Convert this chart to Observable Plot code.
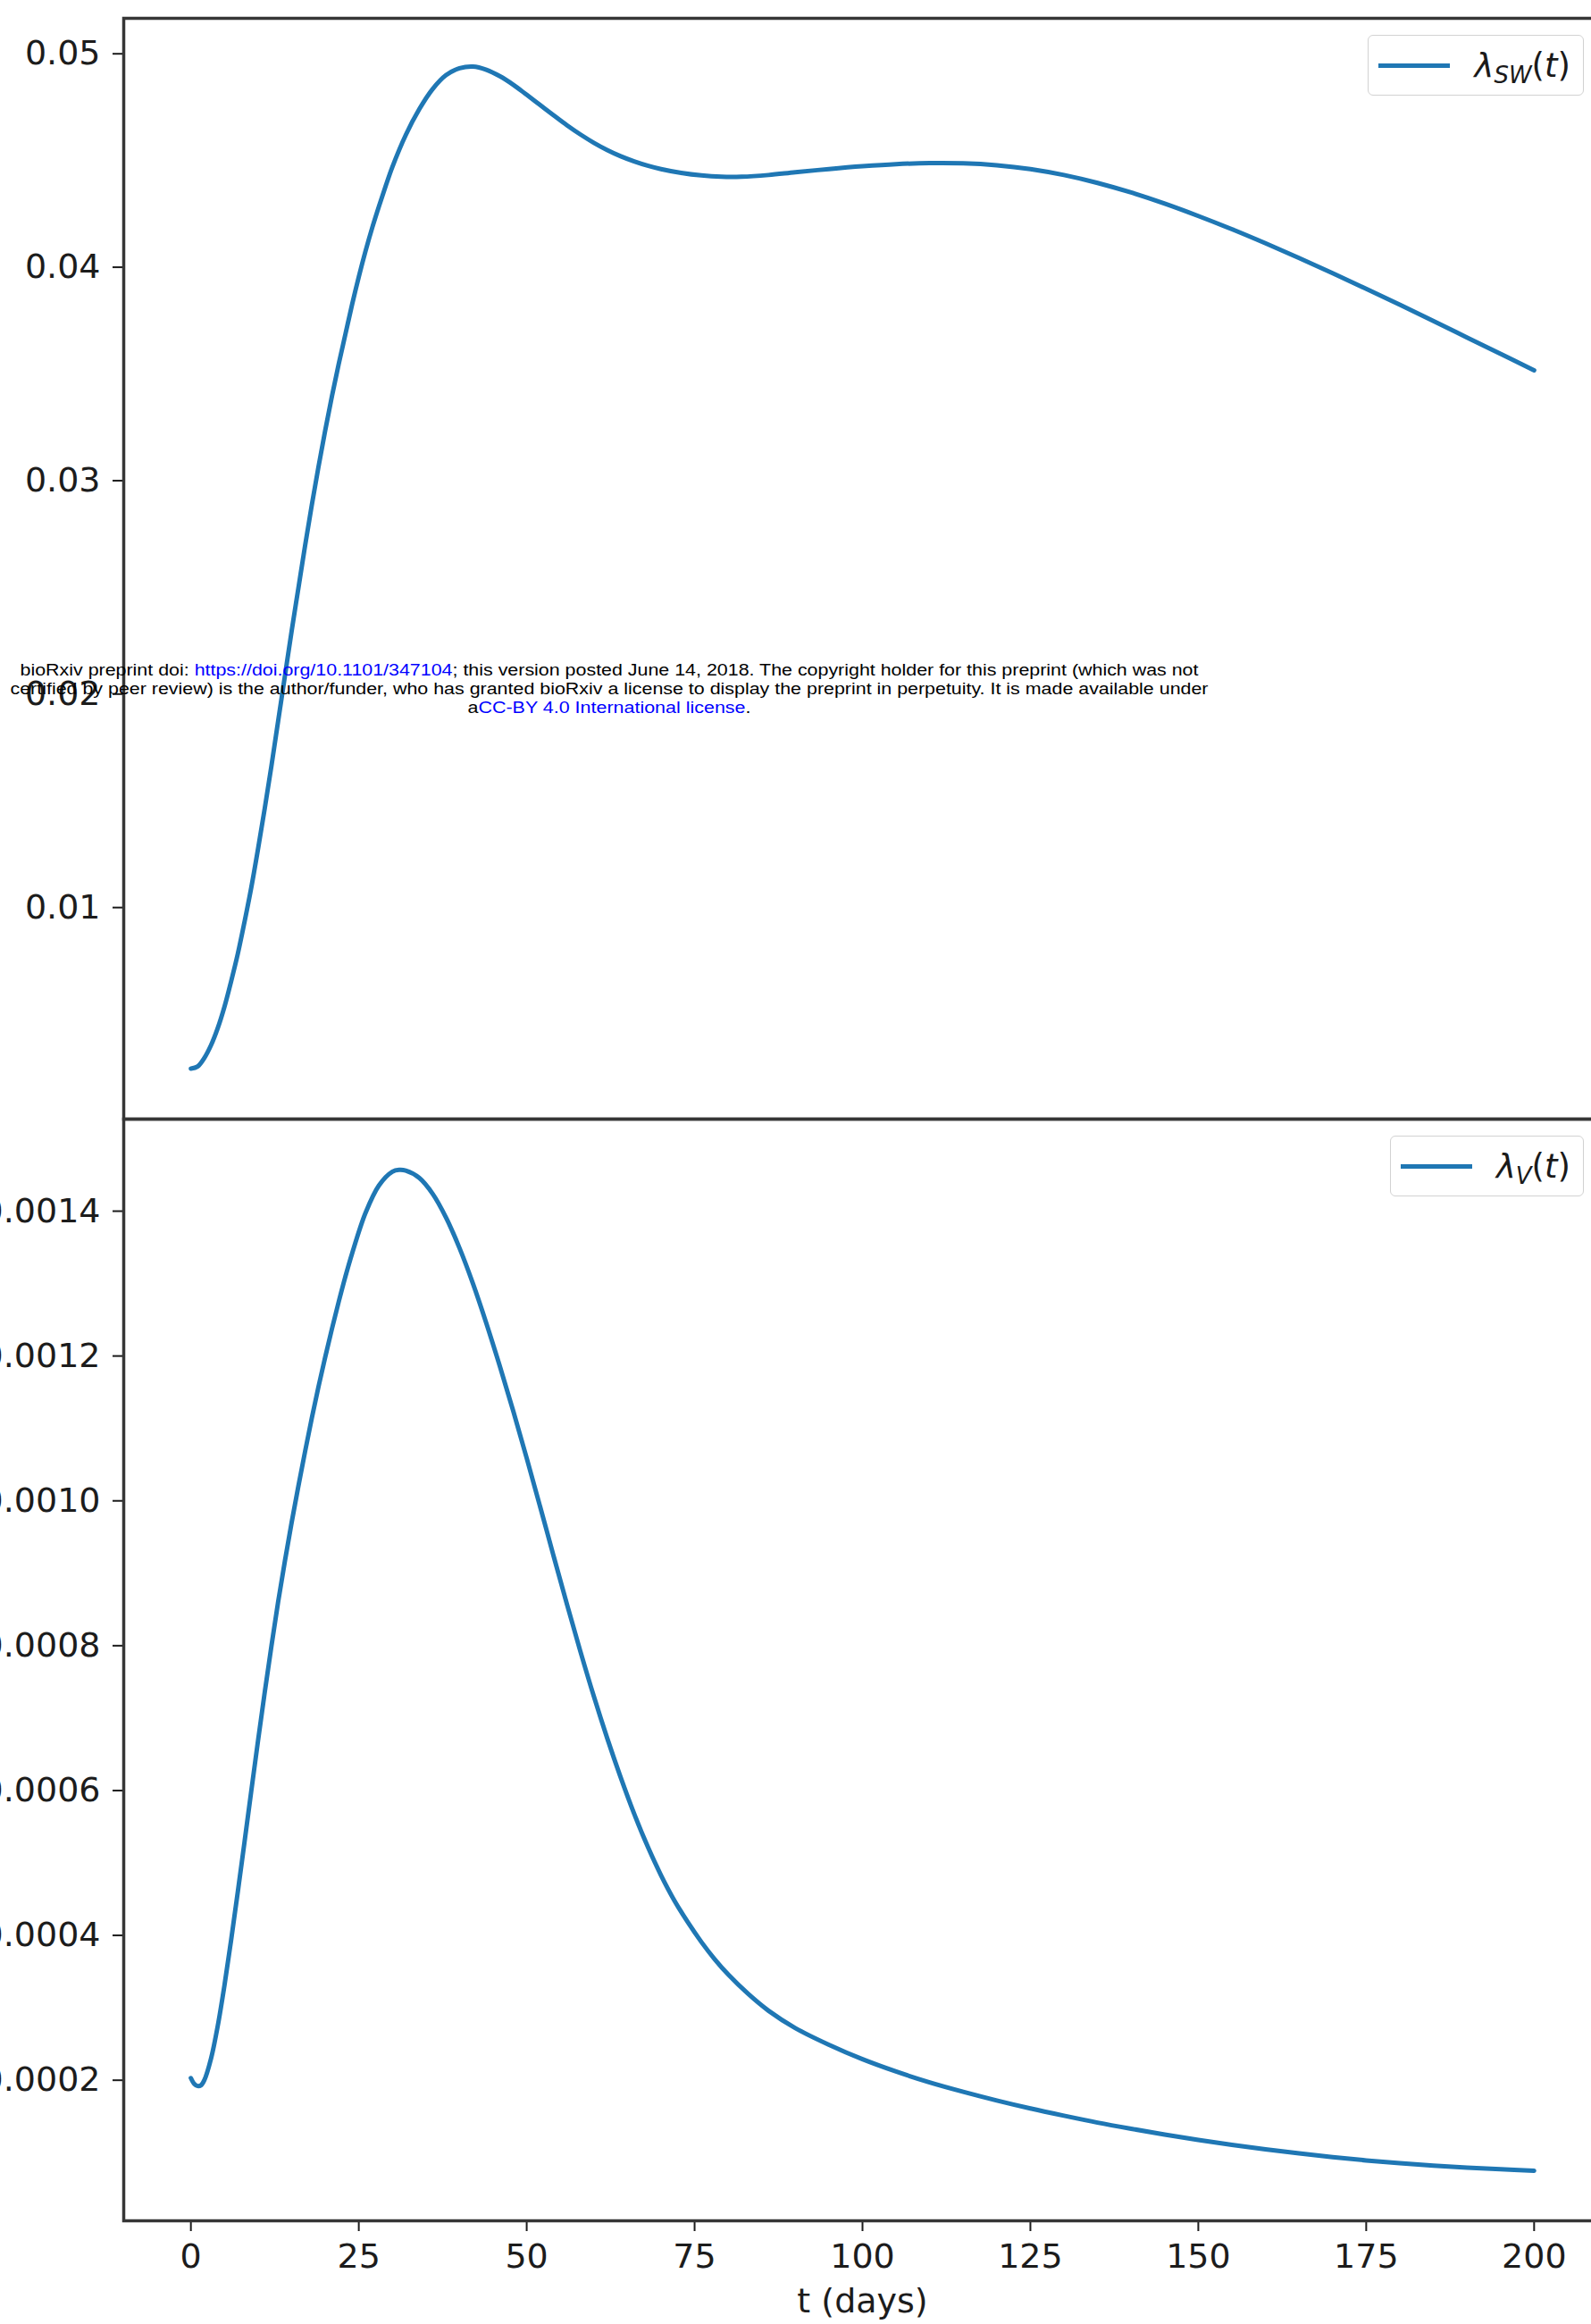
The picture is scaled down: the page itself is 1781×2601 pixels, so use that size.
<!DOCTYPE html>
<html>
<head>
<meta charset="utf-8">
<script src="https://cdn.jsdelivr.net/npm/d3@7"></script>
<script src="https://cdn.jsdelivr.net/npm/@observablehq/plot@0.6"></script>
<style>
  html, body { margin: 0; padding: 0; background: #fff; }
  #fig { position: relative; width: 1781px; height: 2601px; overflow: hidden; background: #fff; }
  #fig .panel { position: absolute; left: 0; max-width: none !important; }
  .legend {
    position: absolute; box-sizing: border-box; height: 68px;
    display: flex; align-items: center;
    padding: 0 14px 0 11px;
    background: #fff; border: 1.5px solid #d2d2d2; border-radius: 6px;
    font-family: "DejaVu Sans", sans-serif; font-size: 37px; color: #1a1a1a;
  }
  .legend .swatch { display: inline-block; width: 80px; height: 5px; background: #1f77b4; margin-right: 27px; }
  .legend .math { white-space: nowrap; line-height: 1; }
  .legend .math i { font-style: italic; }
  .legend .math sub { font-size: 26px; vertical-align: -7px; line-height: 0; }
  #notice { position: absolute; left: 0; top: 0; pointer-events: none; }
</style>
</head>
<body>
<div id="fig"></div>
<script>
// Force of infection on sex workers, lambda_SW(t), by day
const daysSW = [0, 1, 2, 3, 4, 5, 6, 7, 8, 9, 10, 11, 12, 13, 14, 15, 16, 17, 18, 19, 20,
  21, 22, 23, 24, 25, 26, 27, 28, 29, 30, 32, 34, 36, 38, 40, 42, 44, 46, 48, 50, 52, 54,
  56, 58, 60, 62, 64, 66, 68, 70, 73, 76, 79, 82, 86, 90, 95, 100, 105, 110, 115, 120, 125,
  130, 135, 140, 145, 150, 155, 160, 165, 170, 175, 180, 185, 190, 195, 200];
const lambdaSW = [0.00245, 0.00255, 0.00295, 0.00355, 0.00435, 0.00535, 0.00655, 0.00785,
  0.00935, 0.01095, 0.01275, 0.01465, 0.01665, 0.01875, 0.02085, 0.02295, 0.02495, 0.02695,
  0.02885, 0.03065, 0.03235, 0.03395, 0.03545, 0.03685, 0.03825, 0.03955, 0.04075, 0.04185,
  0.04285, 0.0438, 0.0447, 0.0462, 0.0474, 0.04835, 0.0490, 0.04932, 0.0494, 0.04925,
  0.04895, 0.04855, 0.04808, 0.0476, 0.04712, 0.04665, 0.04622, 0.04583, 0.04549, 0.0452,
  0.04496, 0.04476, 0.0446, 0.04442, 0.0443, 0.04424, 0.04424, 0.04432, 0.04445, 0.0446,
  0.04473, 0.04483, 0.04488, 0.04487, 0.04478, 0.0446, 0.04432, 0.04395, 0.0435, 0.04298,
  0.0424, 0.04178, 0.04112, 0.04043, 0.03972, 0.03899, 0.03824, 0.03748, 0.03671, 0.03594,
  0.03517];

// Force of infection on the vector population, lambda_V(t), by day
const daysV = [0, 0.5, 1, 1.5, 2, 3, 4, 5, 6, 7, 8, 9, 10, 11, 12, 13, 14, 15, 16, 17, 18,
  19, 20, 21, 22, 23, 24, 26, 28, 30, 31, 32, 34, 36, 38, 40, 42, 44, 46, 48, 50, 52, 54,
  56, 58, 60, 62, 64, 66, 68, 70, 72, 74, 76, 78, 80, 83, 86, 90, 95, 100, 105, 110, 115,
  120, 125, 130, 135, 140, 145, 150, 155, 160, 165, 170, 175, 180, 185, 190, 195, 200];
const lambdaV = [0.000203, 0.000195, 0.000192, 0.000193, 0.000200, 0.000230, 0.000275,
  0.000331, 0.000394, 0.000461, 0.000530, 0.000600, 0.000669, 0.000736, 0.000800, 0.000861,
  0.000917, 0.000970, 0.001020, 0.001068, 0.001114, 0.0011575, 0.0011985, 0.0012375,
  0.0012745, 0.0013095, 0.0013415, 0.0013975, 0.0014355, 0.0014545, 0.001457, 0.001456,
  0.001446, 0.001424, 0.001391, 0.001349, 0.001300, 0.001245, 0.001186, 0.001124, 0.001059,
  0.000992, 0.000924, 0.000857, 0.000792, 0.000730, 0.000672, 0.000618, 0.000568, 0.000523,
  0.000483, 0.000448, 0.000418, 0.000391, 0.000367, 0.000346, 0.000319, 0.000296, 0.000272,
  0.000249, 0.000229, 0.000212, 0.000197, 0.000184, 0.000172, 0.000161, 0.000151,
  0.0001415, 0.000133, 0.000125, 0.0001176, 0.0001108, 0.0001046, 0.000099, 0.0000939,
  0.0000893, 0.0000855, 0.0000822, 0.0000793, 0.000077, 0.000075];

// Tick values
const xTicks = [0, 25, 50, 75, 100, 125, 150, 175, 200];
const yTicksSW = [0.01, 0.02, 0.03, 0.04, 0.05];
const yTicksV = [0.0002, 0.0004, 0.0006, 0.0008, 0.0010, 0.0012, 0.0014];

const xLabel = "t (days)";

const swRows = daysSW.map((t, i) => ({t, v: lambdaSW[i]}));
const vRows = daysV.map((t, i) => ({t, v: lambdaV[i]}));

const lineColor = "#1f77b4";
const spineColor = "#363636";
const textColor = "#1c1c1c";
const font = "DejaVu Sans";
const fontSize = 38;
const baseStyle = {fontFamily: font, fontSize: fontSize + "px", color: textColor, background: "transparent", overflow: "visible", maxWidth: "none"};
const axisOpts = {tickSize: 12, tickPadding: 14, fontSize, strokeWidth: 2, label: null};

const fig = document.getElementById("fig");

// Upper panel: lambda_SW(t)
const upper = Plot.plot({
  width: 1800, height: 1254,
  marginLeft: 138, marginRight: 8, marginTop: 20, marginBottom: 2,
  style: baseStyle,
  x: {domain: [-10, 210], axis: null},
  y: {domain: [0.000087, 0.051662]},
  marks: [
    Plot.axisY(yTicksSW, {...axisOpts, tickFormat: d3.format(".2f")}),
    Plot.line(swRows, {x: "t", y: "v", stroke: lineColor, strokeWidth: 5, curve: "catmull-rom"}),
    Plot.frame({stroke: spineColor, strokeWidth: 3.5})
  ]
});
upper.classList.add("panel");
upper.style.top = "0px";
upper.style.maxWidth = "none";
fig.appendChild(upper);

// Lower panel: lambda_V(t)
const lower = Plot.plot({
  width: 1800, height: 1369,
  marginLeft: 138, marginRight: 8, marginTop: 20, marginBottom: 116,
  style: baseStyle,
  x: {domain: [-10, 210]},
  y: {domain: [0.0000059, 0.0015271]},
  marks: [
    Plot.axisY(yTicksV, {...axisOpts, tickFormat: d3.format(".4f")}),
    Plot.axisX(xTicks, {...axisOpts, tickFormat: d3.format("d")}),
    Plot.text([xLabel], {text: d => d, frameAnchor: "bottom", dy: 102, fontSize, fill: textColor}),
    Plot.line(vRows, {x: "t", y: "v", stroke: lineColor, strokeWidth: 5, curve: "catmull-rom"}),
    Plot.frame({stroke: spineColor, strokeWidth: 3.5})
  ]
});
lower.classList.add("panel");
lower.style.top = "1232px";
lower.style.maxWidth = "none";
fig.appendChild(lower);

// Legends
function legend(top, sub) {
  const box = document.createElement("div");
  box.className = "legend";
  box.style.top = top + "px";
  box.style.right = "8px";
  box.innerHTML = `<span class="swatch"></span><span class="math"><i>λ</i><sub><i>${sub}</i></sub>(<i>t</i>)</span>`;
  fig.appendChild(box);
}
legend(39, "SW");
legend(1271, "V");

// Preprint notice printed across the figure
const ns = "http://www.w3.org/2000/svg";
const notice = document.createElementNS(ns, "svg");
notice.setAttribute("id", "notice");
notice.setAttribute("width", 1781);
notice.setAttribute("height", 900);
const noticeLines = [
  {y: 756, len: 1319, parts: [["bioRxiv preprint doi: ", "#000"], ["https://doi.org/10.1101/347104", "#0000ff"], ["; this version posted June 14, 2018. The copyright holder for this preprint (which was not", "#000"]]},
  {y: 777, len: 1341, parts: [["certified by peer review) is the author/funder, who has granted bioRxiv a license to display the preprint in perpetuity. It is made available under", "#000"]]},
  {y: 798, len: 317, parts: [["a", "#000"], ["CC-BY 4.0 International license", "#0000ff"], [".", "#000"]]}
];
for (const line of noticeLines) {
  const t = document.createElementNS(ns, "text");
  t.setAttribute("x", 682);
  t.setAttribute("y", line.y);
  t.setAttribute("text-anchor", "middle");
  t.setAttribute("font-family", "Liberation Sans, Arial, sans-serif");
  t.setAttribute("font-size", "17.5");
  t.setAttribute("textLength", line.len);
  t.setAttribute("lengthAdjust", "spacingAndGlyphs");
  for (const [s, c] of line.parts) {
    const sp = document.createElementNS(ns, "tspan");
    sp.setAttribute("fill", c);
    sp.textContent = s;
    t.appendChild(sp);
  }
  notice.appendChild(t);
}
fig.appendChild(notice);
</script>
</body>
</html>
